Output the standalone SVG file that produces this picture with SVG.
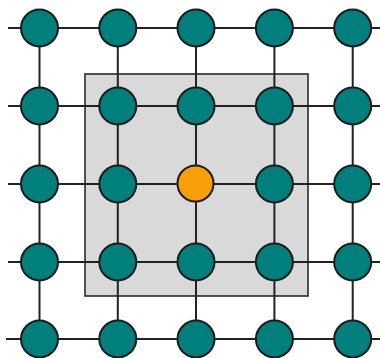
<svg xmlns="http://www.w3.org/2000/svg" width="380" height="358" viewBox="0 0 380 358">
<style>
.ln{stroke:#222;stroke-width:2;fill:none}
.n{fill:#007f7c;stroke:#1c1c1c;stroke-width:2}
.c{fill:#f89e0b;stroke:#1c1c1c;stroke-width:2}
</style>
<rect width="380" height="358" fill="#fff"/>
<rect x="85" y="74" width="223" height="222" fill="#d9d9d9" stroke="#2a2a2a" stroke-width="1.6"/>
<g id="connectors" class="ln">
<line x1="8" y1="28" x2="380" y2="28"/>
<line x1="8" y1="106" x2="380" y2="106"/>
<line x1="8" y1="184" x2="380" y2="184"/>
<line x1="8" y1="262" x2="380" y2="262"/>
<line x1="6" y1="339" x2="380" y2="339"/>
<line x1="39.5" y1="28" x2="39.5" y2="339"/>
<line x1="117.8" y1="28" x2="117.8" y2="339"/>
<line x1="196" y1="28" x2="196" y2="339"/>
<line x1="274.4" y1="28" x2="274.4" y2="339"/>
<line x1="352.7" y1="28" x2="352.7" y2="339"/>
</g>
<g id="n11"><circle class="n" cx="39.5" cy="28" r="18.5"/></g>
<g id="n12"><circle class="n" cx="117.8" cy="28" r="18.5"/></g>
<g id="n13"><circle class="n" cx="196" cy="28" r="18.5"/></g>
<g id="n14"><circle class="n" cx="274.4" cy="28" r="18.5"/></g>
<g id="n15"><circle class="n" cx="352.7" cy="28" r="18.5"/></g>
<g id="n21"><circle class="n" cx="39.5" cy="106" r="18.5"/></g>
<g id="n22"><circle class="n" cx="117.8" cy="106" r="18.5"/></g>
<g id="n23"><circle class="n" cx="196" cy="106" r="18.5"/></g>
<g id="n24"><circle class="n" cx="274.4" cy="106" r="18.5"/></g>
<g id="n25"><circle class="n" cx="352.7" cy="106" r="18.5"/></g>
<g id="n31"><circle class="n" cx="39.5" cy="184" r="18.5"/></g>
<g id="n32"><circle class="n" cx="117.8" cy="184" r="18.5"/></g>
<g id="n33"><circle class="c" cx="195.5" cy="183.5" r="18"/></g>
<g id="n34"><circle class="n" cx="274.4" cy="184" r="18.5"/></g>
<g id="n35"><circle class="n" cx="352.7" cy="184" r="18.5"/></g>
<g id="n41"><circle class="n" cx="39.5" cy="262" r="18.5"/></g>
<g id="n42"><circle class="n" cx="117.8" cy="262" r="18.5"/></g>
<g id="n43"><circle class="n" cx="196" cy="262" r="18.5"/></g>
<g id="n44"><circle class="n" cx="274.4" cy="262" r="18.5"/></g>
<g id="n45"><circle class="n" cx="352.7" cy="262" r="18.5"/></g>
<g id="n51"><circle class="n" cx="39.5" cy="339" r="18.5"/></g>
<g id="n52"><circle class="n" cx="117.8" cy="339" r="18.5"/></g>
<g id="n53"><circle class="n" cx="196" cy="339" r="18.5"/></g>
<g id="n54"><circle class="n" cx="274.4" cy="339" r="18.5"/></g>
<g id="n55"><circle class="n" cx="352.7" cy="339" r="18.5"/></g>
</svg>
